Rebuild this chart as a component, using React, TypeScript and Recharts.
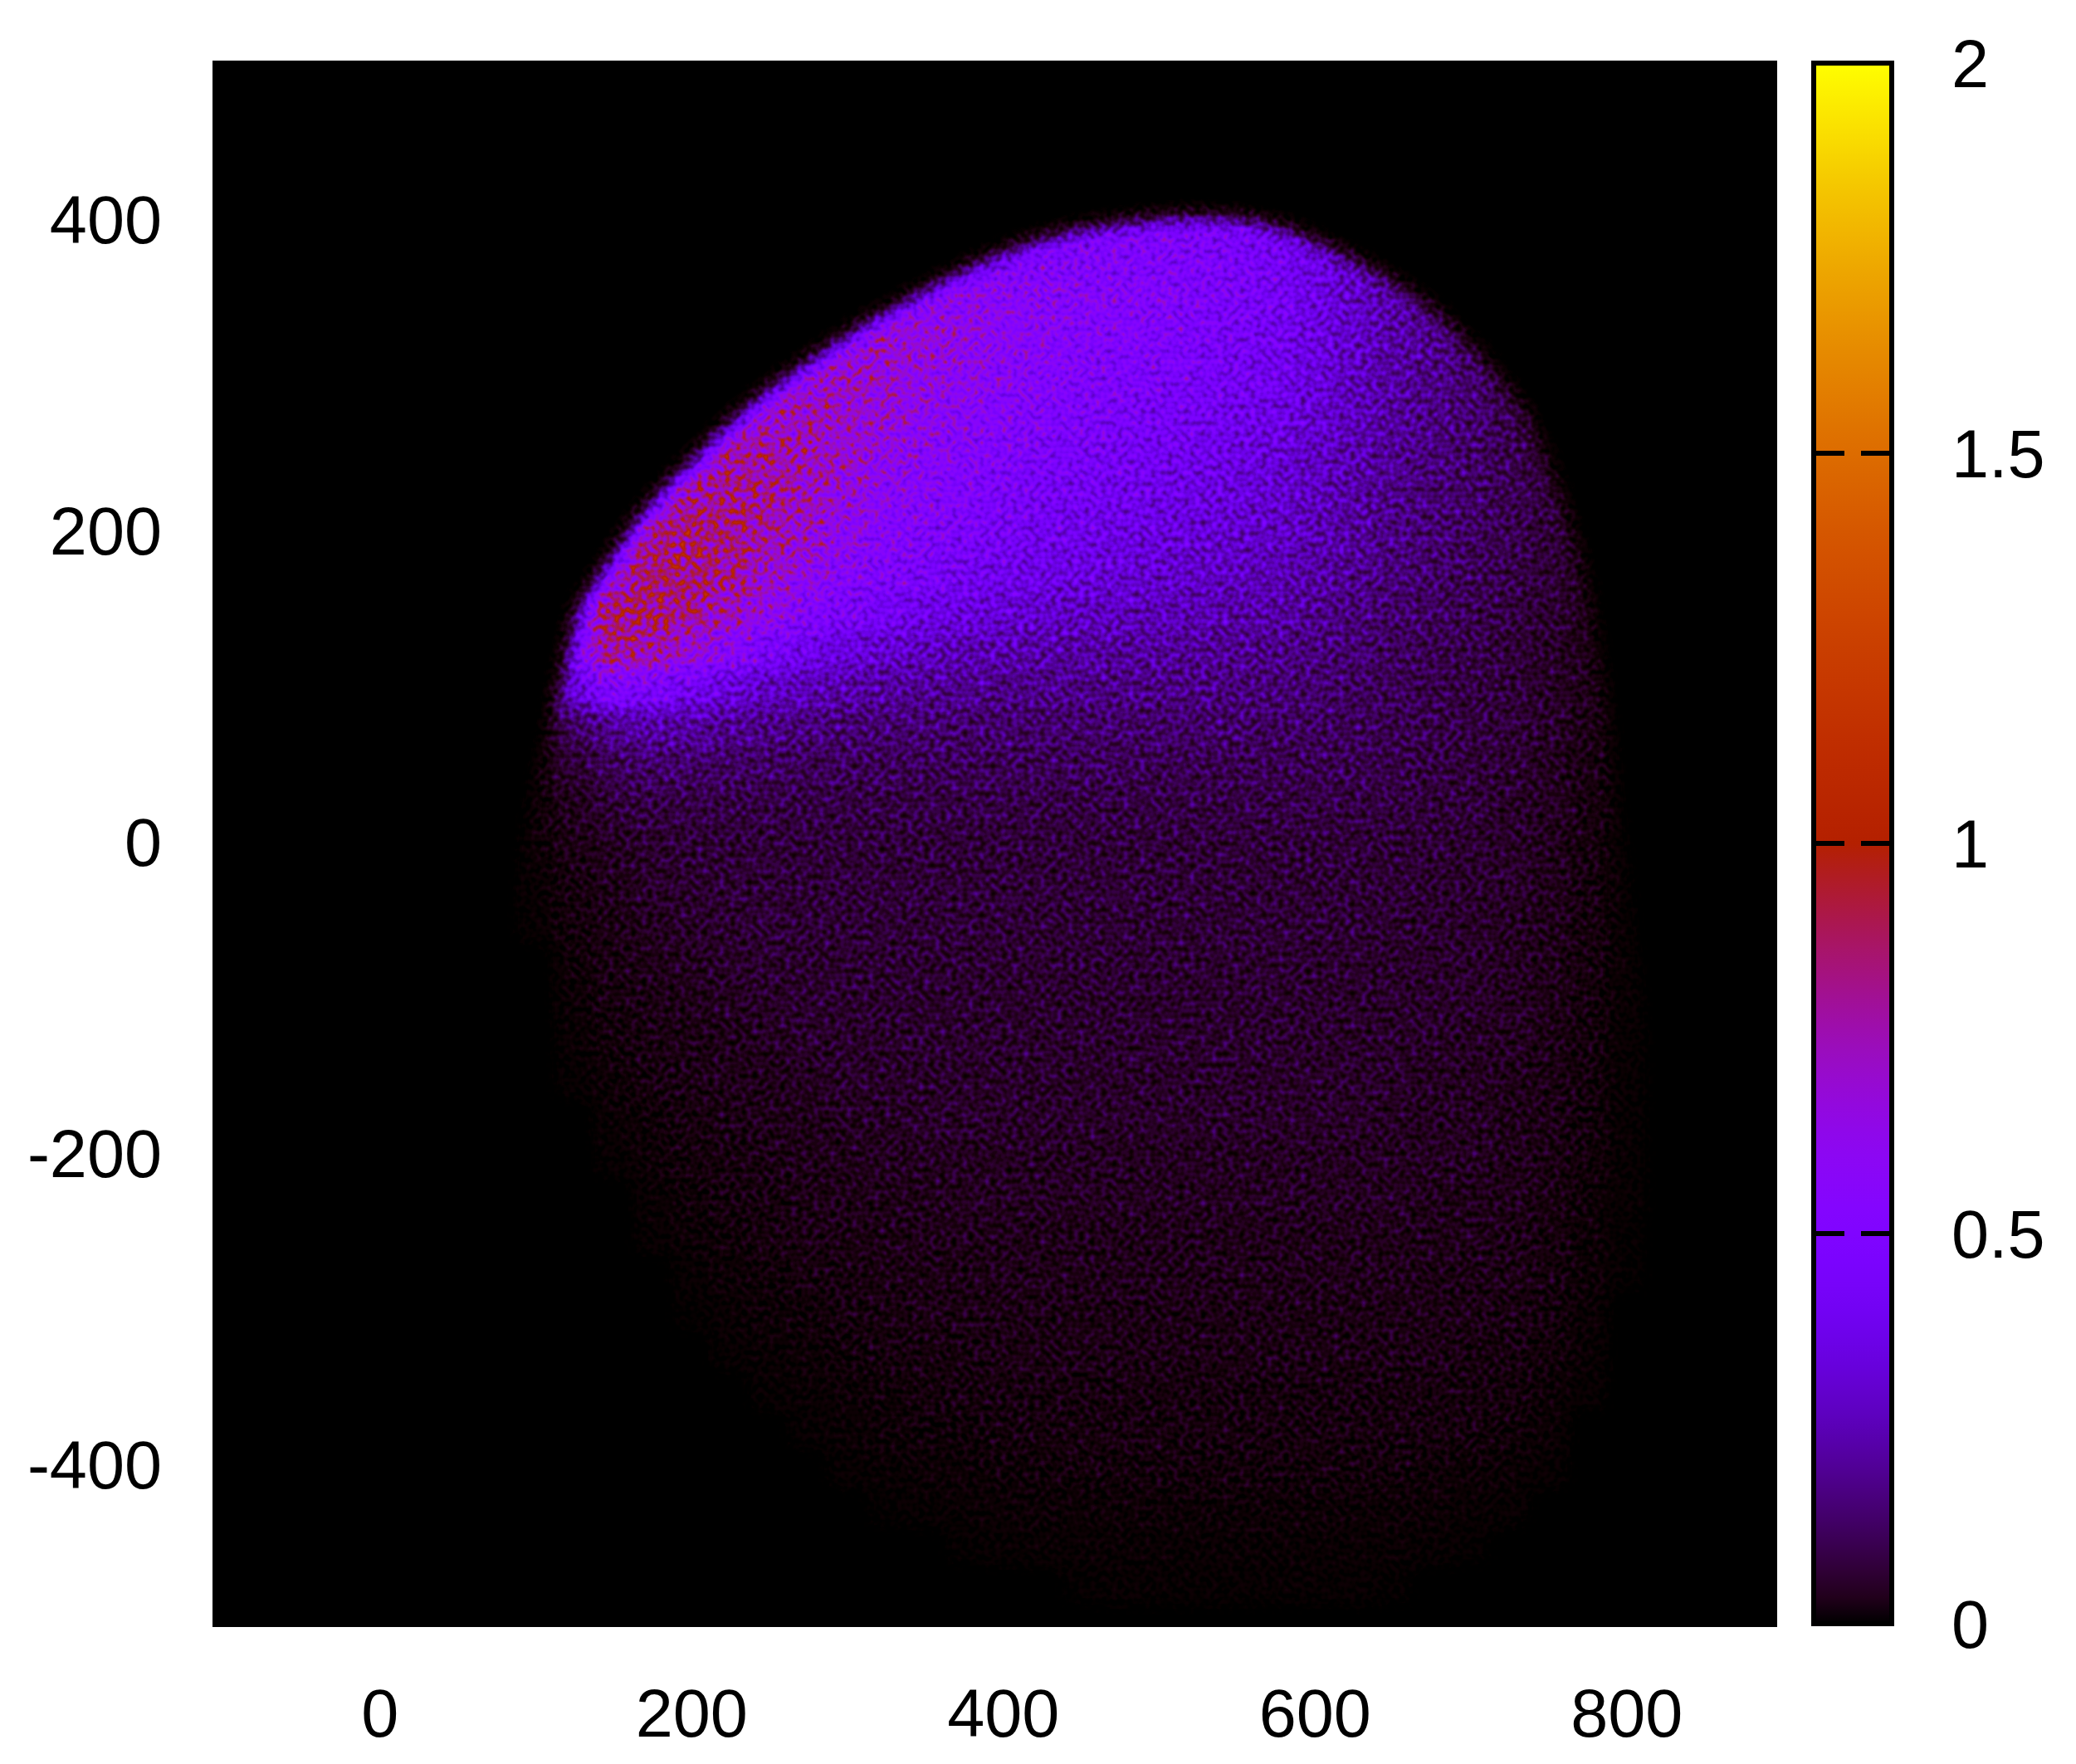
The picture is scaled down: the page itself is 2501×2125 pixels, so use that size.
import { Area, Bar, BarChart, ComposedChart, ReferenceLine, Scatter, ScatterChart, XAxis, YAxis } from "recharts"

// cell centres of the density map
const xCells = [75, 100, 125, 150, 175, 200, 225, 250, 275, 300, 325, 350, 375, 400, 425, 450, 475, 500, 525, 550, 575, 600, 625, 650, 675, 700, 725, 750, 775, 800, 825]
const yCells = [425, 400, 375, 350, 325, 300, 275, 250, 225, 200, 175, 150, 125, 100, 75, 50, 25, 0, -25, -50, -75, -100, -125, -150, -175, -200, -225, -250, -275, -300, -325, -350, -375, -400, -425, -450, -475]

// density in hundredths, one row per yCells entry
const densityRows = [
  [0, 0, 0, 0, 0, 0, 0, 0, 0, 0, 0, 0, 0, 48, 48, 48, 48, 48, 47, 46, 44, 40, 28, 0, 0, 0, 0, 0, 0, 0, 0],
  [0, 0, 0, 0, 0, 0, 0, 0, 0, 0, 0, 50, 50, 50, 50, 50, 50, 49, 48, 46, 43, 38, 29, 21, 0, 0, 0, 0, 0, 0, 0],
  [0, 0, 0, 0, 0, 0, 0, 0, 0, 55, 55, 55, 52, 50, 50, 50, 50, 49, 48, 45, 42, 36, 29, 24, 19, 11, 0, 0, 0, 0, 0],
  [0, 0, 0, 0, 0, 0, 0, 0, 55, 55, 58, 58, 60, 58, 56, 54, 53, 51, 48, 45, 42, 36, 29, 23, 19, 12, 7, 0, 0, 0, 0],
  [0, 0, 0, 0, 0, 0, 0, 60, 60, 62, 68, 66, 62, 58, 55, 52, 51, 49, 46, 43, 40, 35, 29, 23, 19, 13, 7, 4, 0, 0, 0],
  [0, 0, 0, 0, 0, 0, 60, 62, 66, 70, 68, 63, 60, 56, 53, 50, 48, 46, 44, 41, 39, 33, 27, 22, 18, 14, 9, 5, 0, 0, 0],
  [0, 0, 0, 0, 0, 60, 62, 70, 74, 70, 65, 60, 56, 53, 50, 47, 45, 43, 41, 38, 36, 31, 26, 21, 18, 14, 10, 6, 3, 0, 0],
  [0, 0, 0, 0, 60, 62, 76, 78, 74, 68, 62, 57, 53, 50, 46, 44, 42, 40, 38, 35, 33, 28, 24, 20, 16, 13, 10, 7, 3, 0, 0],
  [0, 0, 0, 60, 65, 78, 82, 78, 72, 65, 58, 54, 50, 46, 43, 41, 39, 37, 35, 33, 30, 27, 22, 18, 15, 13, 10, 8, 4, 0, 0],
  [0, 0, 55, 60, 80, 84, 82, 76, 68, 60, 54, 50, 46, 43, 40, 38, 36, 34, 32, 30, 28, 25, 21, 17, 15, 12, 10, 7, 4, 1.5, 0],
  [0, 50, 55, 70, 85, 84, 80, 70, 62, 54, 49, 45, 41, 38, 36, 34, 32, 30, 29, 27, 25, 22, 19, 16, 13, 11, 9, 7, 4, 1.5, 0],
  [0, 50, 58, 84, 85, 80, 72, 62, 52, 46, 41, 37, 34, 32, 30, 28, 27, 26, 25, 23, 22, 19, 16, 13, 12, 10, 8, 6, 4, 1.5, 0],
  [0, 40, 55, 80, 76, 66, 56, 45, 38, 33, 30, 27, 25, 24, 23, 22, 21, 21, 20, 19, 18, 16, 14, 12, 10, 9, 7, 5, 3, 1, 0],
  [0, 10, 35, 50, 46, 40, 33, 28, 25, 23, 21, 20, 19, 18, 18, 18, 17, 17, 17, 16, 15, 14, 12, 11, 9, 8, 7, 5, 3, 1, 0],
  [0, 3, 12, 20, 22, 21, 19, 17, 16, 15, 14, 14, 13, 13, 13, 13, 13, 13, 13, 13, 12, 12, 11, 10, 9, 8, 7, 5, 2.5, 0.8, 0],
  [0, 2, 6, 11, 13, 13, 12, 12, 11, 11, 11, 11, 11, 11, 11, 11, 11, 10, 10, 10, 10, 10, 10, 9, 8, 7, 6, 4, 2, 0.5, 0],
  [0, 1, 3.5, 7, 8, 8.5, 8.5, 8.5, 8.5, 8.5, 8.5, 8.5, 8.5, 8.5, 8.5, 8.5, 8.5, 8.5, 8.5, 8.5, 8.5, 8.5, 8, 8, 7, 7, 5, 4, 2, 0.4, 0],
  [0, 0.6, 2.5, 4, 5.5, 6.5, 6.5, 7, 7, 7, 7, 7, 7, 7, 7, 7, 7, 7, 7, 7, 7, 7, 7, 6.5, 6.5, 5.5, 5, 3.5, 1.6, 0.3, 0],
  [0, 0.3, 1.6, 3, 5, 5.5, 6.5, 6.5, 6.5, 7, 7, 7, 7, 7, 7, 7, 7, 7, 7, 6.5, 6.5, 6.5, 6.5, 6.5, 5.5, 5.5, 5, 3.5, 1.6, 0.3, 0],
  [0, 0.2, 1.2, 2.4, 4, 5, 5.5, 6.5, 6.5, 6.5, 6.5, 6.5, 6.5, 6.5, 6.5, 6.5, 6.5, 6.5, 6.5, 6.5, 6.5, 6.5, 6.5, 5.5, 5.5, 5, 4, 3, 1.6, 0.3, 0],
  [0, 0, 0.8, 2, 3, 4, 5, 5.5, 5.5, 6, 6, 6, 6, 6, 6, 6, 6, 6, 6, 6, 6, 5.5, 5.5, 5.5, 5, 5, 4, 3, 1.4, 0.3, 0],
  [0, 0, 0.5, 1.6, 2.4, 3, 4, 5, 5.5, 5.5, 5.5, 5.5, 5.5, 5.5, 5.5, 5.5, 5.5, 5.5, 5.5, 5.5, 5.5, 5.5, 5.5, 5, 5, 5, 4, 3, 1.3, 0.3, 0],
  [0, 0, 0.3, 1, 2, 2.4, 3, 4, 5, 5, 5, 5.5, 5.5, 5.5, 5.5, 5.5, 5.5, 5.5, 5.5, 5.5, 5.5, 5, 5, 5, 5, 4, 4, 2.4, 1.2, 0.2, 0],
  [0, 0, 0.2, 0.6, 1.6, 2.4, 3, 3, 4, 5, 5, 5, 5, 5, 5, 5, 5, 5, 5, 5, 5, 5, 5, 5, 4, 4, 3, 2.4, 1.1, 0.2, 0],
  [0, 0, 0, 0.4, 0.8, 1.6, 2.4, 3, 3, 4, 4, 5, 5, 5, 5, 5, 5, 5, 5, 5, 5, 5, 5, 4, 4, 4, 3, 2.4, 1, 0.2, 0],
  [0, 0, 0, 0.2, 0.6, 1.2, 1.6, 2.4, 3, 3, 4, 4, 4, 4, 4, 4, 4, 4, 4, 4, 4, 4, 4, 4, 4, 4, 3, 2.4, 1, 0.2, 0],
  [0, 0, 0, 0, 0.3, 0.8, 1.6, 1.6, 2.4, 3, 3, 3, 4, 4, 4, 4, 4, 4, 4, 4, 4, 4, 4, 4, 3, 3, 3, 2, 0.8, 0.2, 0],
  [0, 0, 0, 0, 0.2, 0.5, 0.8, 1.6, 2.4, 2.4, 2.4, 3, 3, 3, 3, 3, 3, 3, 3, 3, 3, 3, 3, 3, 3, 3, 2.4, 1.6, 0.6, 0.1, 0],
  [0, 0, 0, 0, 0, 0.2, 0.6, 0.8, 1.6, 1.6, 2.4, 2.4, 2.4, 3, 3, 3, 3, 3, 3, 3, 3, 3, 3, 3, 2.4, 2.4, 2.4, 1.4, 0.6, 0.1, 0],
  [0, 0, 0, 0, 0, 0.1, 0.3, 0.6, 0.8, 1.6, 1.6, 2.4, 2.4, 2.4, 2.4, 2.4, 2.4, 2.4, 2.4, 2.4, 2.4, 2.4, 2.4, 2.4, 2.4, 2.4, 2, 1.2, 0.4, 0, 0],
  [0, 0, 0, 0, 0, 0, 0.2, 0.3, 0.6, 0.8, 1.6, 1.6, 1.6, 2.4, 2.4, 2.4, 2.4, 2.4, 2.4, 2.4, 2.4, 2.4, 2.4, 2.4, 2.4, 1.6, 1.6, 1, 0.3, 0, 0],
  [0, 0, 0, 0, 0, 0, 0, 0.2, 0.3, 0.6, 0.8, 1.2, 1.6, 1.6, 1.6, 1.6, 1.6, 1.6, 1.6, 1.6, 1.6, 1.6, 1.6, 1.6, 1.6, 1.6, 1.2, 0.6, 0.2, 0, 0],
  [0, 0, 0, 0, 0, 0, 0, 0, 0.2, 0.3, 0.6, 0.8, 0.8, 1.2, 1.6, 1.6, 1.6, 1.6, 1.6, 1.6, 1.6, 1.6, 1.6, 1.6, 1.6, 1.2, 0.8, 0.4, 0, 0, 0],
  [0, 0, 0, 0, 0, 0, 0, 0, 0, 0.2, 0.3, 0.5, 0.6, 0.8, 0.8, 1, 1, 1, 1, 1, 1, 1, 1, 1, 0.8, 0.6, 0.4, 0.2, 0, 0, 0],
  [0, 0, 0, 0, 0, 0, 0, 0, 0, 0, 0.1, 0.2, 0.3, 0.4, 0.5, 0.5, 0.6, 0.6, 0.6, 0.6, 0.6, 0.6, 0.6, 0.5, 0.5, 0.3, 0.2, 0, 0, 0, 0],
  [0, 0, 0, 0, 0, 0, 0, 0, 0, 0, 0, 0, 0.1, 0.2, 0.3, 0.3, 0.3, 0.3, 0.3, 0.3, 0.3, 0.3, 0.3, 0.3, 0.2, 0.1, 0, 0, 0, 0, 0],
  [0, 0, 0, 0, 0, 0, 0, 0, 0, 0, 0, 0, 0, 0, 0, 0.1, 0.2, 0.2, 0.2, 0.2, 0.2, 0.2, 0.2, 0.1, 0, 0, 0, 0, 0, 0, 0],
]

// upper and right rim of the cloud, everything above it is empty
const edgeX = [80, 90, 100, 110, 118, 125, 137, 150, 175, 200, 225, 250, 275, 300, 325, 350, 375, 400, 425, 450, 475, 500, 525, 550, 575, 600, 625, 650, 675, 700, 725, 740, 750, 760, 772, 782, 792, 802, 815, 830, 850, 896]
const edgeY = [-90, -15, 42, 84, 113, 145, 167, 187, 221, 247, 272, 293, 311, 328, 343, 357, 370, 381, 390, 396, 400, 403, 404, 403, 398, 389, 377, 363, 345, 322, 293, 270, 247, 217, 180, 125, 55, -25, -145, -300, -502, -502]

const xTicks = [0, 200, 400, 600, 800]
const yTicks = [-400, -200, 0, 200, 400]
const colorTicks = [0, 0.5, 1, 1.5, 2]
const colorTop = [{ name: "cb", value: 2 }]

const WIDTH = 2501
const HEIGHT = 2125
const PLOT = { left: 256, top: 73, width: 1885, height: 1887 }
const X_DOMAIN = [-107.5, 896.5]
const Y_DOMAIN = [-502, 504]
const CELL_STEP = 25
const GRAY_MAX = 1.4 // density that maps to white in the gray field
const GRAIN = 0.26 // grain strength in the half-scale field

const PLOT_MARGIN = { top: PLOT.top, right: WIDTH - PLOT.left - PLOT.width, bottom: HEIGHT - PLOT.top - PLOT.height, left: PLOT.left }
const labelStyle = { fill: "#000", fontSize: 81, fontFamily: '"Liberation Sans", Arial, sans-serif' }

const points = densityRows.flatMap((row, r) =>
  row.map((d, c) => ({ x: xCells[c], y: yCells[r], v: d / 100 })).filter((p) => p.v > 0)
)
const emptyAbove = edgeX.map((x, i) => ({ x, range: [edgeY[i], Y_DOMAIN[1]] }))

// gnuplot default pm3d palette (rgbformulae 7,5,15)
function palette(t: number) {
  return [Math.sqrt(t), t * t * t, Math.max(0, Math.sin(2 * Math.PI * t))]
}

// the gray field holds sqrt(density), the table turns it back into palette colours
const table = Array.from({ length: 129 }, (_, i) => palette(((i / 128) ** 2 * GRAY_MAX) / 2))
const tableR = table.map((c) => c[0].toFixed(4)).join(" ")
const tableG = table.map((c) => c[1].toFixed(4)).join(" ")
const tableB = table.map((c) => c[2].toFixed(4)).join(" ")

const gradientStops = Array.from({ length: 61 }, (_, i) => {
  const t = i / 60
  const [r, g, b] = palette(t)
  return { offset: 1 - t, color: `rgb(${Math.round(r * 255)},${Math.round(g * 255)},${Math.round(b * 255)})` }
}).reverse()

function HeatCell(props: any) {
  const { cx, cy, payload } = props
  const w = (CELL_STEP * PLOT.width) / (X_DOMAIN[1] - X_DOMAIN[0])
  const h = (CELL_STEP * PLOT.height) / (Y_DOMAIN[1] - Y_DOMAIN[0])
  const g = Math.round(Math.sqrt(Math.min(1, payload.v / GRAY_MAX)) * 255)
  return <rect x={cx - w / 2} y={cy - h / 2} width={w + 0.5} height={h + 0.5} fill={`rgb(${g},${g},${g})`} />
}

function transfer(input: string, result: string, attrs: any) {
  return (
    <feComponentTransfer in={input} result={result}>
      <feFuncR {...attrs} />
      <feFuncG {...attrs} />
      <feFuncB {...attrs} />
    </feComponentTransfer>
  )
}

export default function App() {
  return (
    <div style={{ position: "absolute", left: 0, top: 0, width: WIDTH, height: HEIGHT, background: "#fff" }}>
      <svg width="0" height="0" style={{ position: "absolute" }}>
        <filter
          id="densityMap"
          filterUnits="userSpaceOnUse"
          x={PLOT.left}
          y={PLOT.top}
          width={PLOT.width}
          height={PLOT.height}
          colorInterpolationFilters="sRGB"
        >
          <feFlood floodColor="#000" result="bg" />
          <feMerge result="base">
            <feMergeNode in="bg" />
            <feMergeNode in="SourceGraphic" />
          </feMerge>
          <feGaussianBlur in="base" stdDeviation="11" result="smooth" />
          <feColorMatrix in="smooth" type="matrix" values="1 0 0 0 0  1 0 0 0 0  1 0 0 0 0  0 0 0 0 1" result="field" />
          {/* grain strength fades out with the field so the background stays black */}
          {transfer("field", "mask", { type: "linear", slope: "12" })}
          {transfer("mask", "halfMask", { type: "linear", slope: "0.5" })}
          {transfer("field", "halfField", { type: "linear", slope: "0.5" })}
          <feTurbulence type="fractalNoise" baseFrequency="0.15" numOctaves="1" seed="7" result="raw" />
          <feColorMatrix in="raw" type="matrix" values="1 0 0 0 0  1 0 0 0 0  1 0 0 0 0  0 0 0 0 1" result="grain" />
          <feComposite in="mask" in2="grain" operator="arithmetic" k1="1" k2="0" k3="0" k4="0" result="maskedGrain" />
          <feComposite in="halfField" in2="maskedGrain" operator="arithmetic" k1="0" k2="1" k3={GRAIN} k4="0" result="up" />
          {/* subtract through the complement: a negative k would drop the alpha */}
          {transfer("up", "upInv", { type: "table", tableValues: "1 0" })}
          <feComposite in="upInv" in2="halfMask" operator="arithmetic" k1="0" k2="1" k3={GRAIN} k4="0" result="downInv" />
          {transfer("downInv", "down", { type: "table", tableValues: "1 0" })}
          {transfer("down", "speck", { type: "linear", slope: "2" })}
          <feColorMatrix in="speck" type="matrix" values="1 0 0 0 0  1 0 0 0 0  1 0 0 0 0  0 0 0 0 1" result="solid" />
          <feComponentTransfer in="solid">
            <feFuncR type="table" tableValues={tableR} />
            <feFuncG type="table" tableValues={tableG} />
            <feFuncB type="table" tableValues={tableB} />
          </feComponentTransfer>
        </filter>
      </svg>

      {/* density cells plus the empty zone, filtered together */}
      <div style={{ position: "absolute", left: 0, top: 0, width: WIDTH, height: HEIGHT, filter: "url(#densityMap)" }}>
        <ComposedChart width={WIDTH} height={HEIGHT} margin={PLOT_MARGIN}>
          <XAxis type="number" dataKey="x" domain={X_DOMAIN} hide />
          <YAxis type="number" dataKey="y" domain={Y_DOMAIN} hide />
          <Scatter data={points} shape={HeatCell} isAnimationActive={false} />
          <Area data={emptyAbove} dataKey="range" type="monotone" fill="#000" fillOpacity={1} stroke="none" isAnimationActive={false} zIndex={900} />
        </ComposedChart>
      </div>

      {/* axis labels */}
      <div style={{ position: "absolute", left: 0, top: 0 }}>
        <ScatterChart width={WIDTH} height={HEIGHT} margin={{ top: PLOT.top, right: PLOT_MARGIN.right, bottom: 0, left: 0 }}>
          <XAxis
            type="number"
            dataKey="x"
            domain={X_DOMAIN}
            ticks={xTicks}
            interval={0}
            height={PLOT_MARGIN.bottom}
            axisLine={false}
            tickLine={false}
            tickSize={0}
            tickMargin={74}
            tick={labelStyle}
          />
          <YAxis
            type="number"
            dataKey="y"
            domain={Y_DOMAIN}
            ticks={yTicks}
            interval={0}
            width={PLOT.left}
            axisLine={false}
            tickLine={false}
            tickSize={0}
            tickMargin={61}
            tick={{ ...labelStyle, dy: -4 }}
          />
          <Scatter data={points} shape={() => null} isAnimationActive={false} />
        </ScatterChart>
      </div>

      <div style={{ position: "absolute", left: 0, top: 0 }}>
        <BarChart
          width={WIDTH}
          height={HEIGHT}
          data={colorTop}
          barCategoryGap={0}
          margin={{ top: 76, right: 0, bottom: HEIGHT - 1956, left: 2185 }}
        >
          <defs>
            <linearGradient id="colorScale" x1="0" y1="0" x2="0" y2="1">
              {gradientStops.map((s) => (
                <stop key={s.offset} offset={s.offset} stopColor={s.color} />
              ))}
            </linearGradient>
          </defs>
          <XAxis dataKey="name" hide />
          <YAxis
            orientation="right"
            domain={[0, 2]}
            ticks={colorTicks}
            interval={0}
            width={WIDTH - 2279}
            axisLine={false}
            tickLine={false}
            tickSize={0}
            tickMargin={72}
            tick={labelStyle}
          />
          <Bar dataKey="value" fill="url(#colorScale)" stroke="#000" strokeWidth={6} isAnimationActive={false} />
          {colorTicks.slice(1, 4).map((t) => (
            <ReferenceLine key={t} y={t} stroke="#000" strokeWidth={6} strokeDasharray="37 20 37" />
          ))}
        </BarChart>
      </div>
    </div>
  )
}
